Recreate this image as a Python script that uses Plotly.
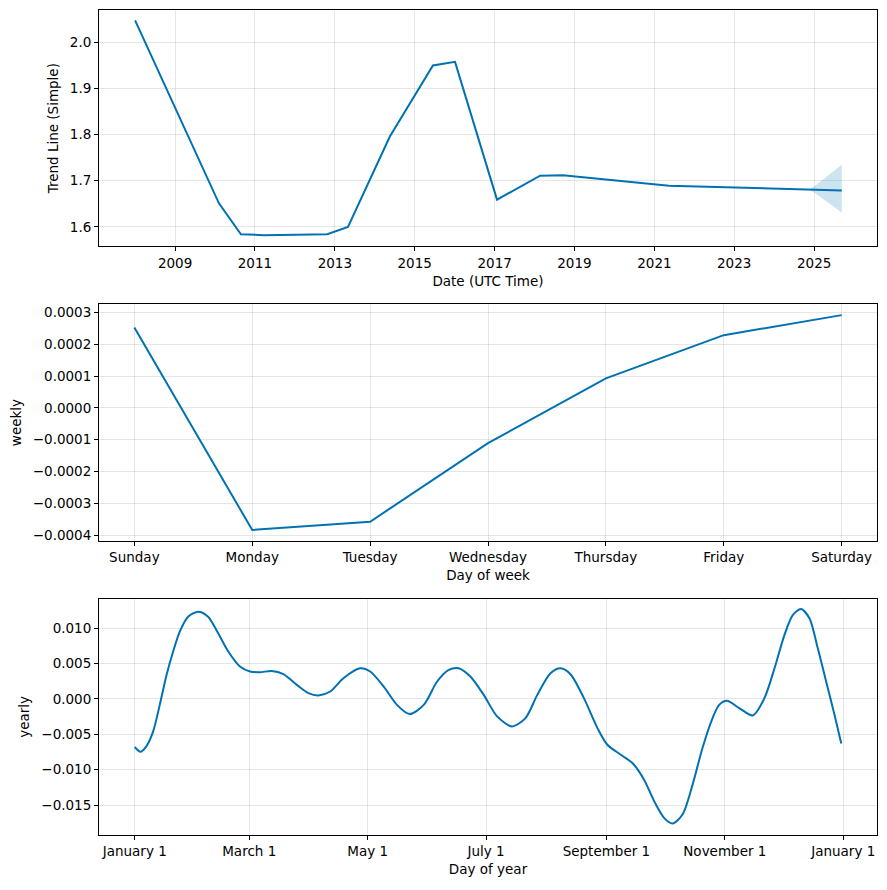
import datetime as dt
import plotly.graph_objects as go

# ---------------- data ----------------
trend_dates = ["2008-01-01", "2010-02-06", "2010-08-26", "2011-03-25", "2012-10-23",
               "2013-05-01", "2014-05-19", "2015-06-17", "2016-01-05", "2017-01-23",
               "2018-02-21", "2018-09-17", "2021-05-15", "2024-12-13", "2025-09-11"]
trend_values = [2.048, 1.651, 1.584, 1.582, 1.584,
                1.600, 1.796, 1.950, 1.958, 1.659,
                1.711, 1.712, 1.689, 1.680, 1.679]

band_dates = ["2024-11-24", "2024-12-10", "2025-01-25", "2025-03-27", "2025-06-26", "2025-09-11"]
band_upper = [1.681, 1.685, 1.692, 1.703, 1.721, 1.735]
band_lower = [1.680, 1.678, 1.671, 1.660, 1.644, 1.631]

weekdays = ["Sunday", "Monday", "Tuesday", "Wednesday", "Thursday", "Friday", "Saturday"]
weekly_values = [0.000253, -0.000384, -0.000358, -0.000111, 0.000093, 0.000229, 0.000292]

yearly_days = [0, 2.9, 6.0, 9.5, 12.9, 16.4, 19.8, 23.2, 27.5, 32.7, 37.8, 43.0, 48.2,
               54.2, 59.4, 64.5, 70.6, 76.6, 83.5, 89.5, 94.6, 100.7, 107.5, 116.2,
               121.3, 128.2, 135.1, 141.6, 148.9, 155.8, 161.8, 166.9, 172.9, 179.8,
               186.7, 194.4, 201.3, 207.4, 214.2, 219.4, 224.5, 231.4, 238.4, 243.5,
               250.4, 256.4, 262.4, 267.6, 272.7, 277.1, 282.2, 287.4, 292.5, 297.7,
               301.1, 305.1, 311.5, 318.4, 324.4, 329.6, 334.7, 339.0, 343.3, 347.6,
               351.9, 356.2, 360.5, 364]
yearly_values = [-0.0068, -0.00746, -0.0067, -0.00459, -0.00085, 0.00338, 0.00668,
                 0.00949, 0.0116, 0.01231, 0.0116, 0.00925, 0.00668, 0.00456, 0.00386,
                 0.00376, 0.00394, 0.00348, 0.00197, 0.0008, 0.00048, 0.00104, 0.00292,
                 0.00432, 0.00386, 0.00175, -0.00085, -0.00215, -0.00085, 0.00245,
                 0.00408, 0.00432, 0.00315, 0.00056, -0.00248, -0.00389, -0.00272,
                 0.00056, 0.00362, 0.00432, 0.00348, 0.0001, -0.00413, -0.00648,
                 -0.00789, -0.00906, -0.01141, -0.01445, -0.0168, -0.0176, -0.01634,
                 -0.01211, -0.00694, -0.00272, -0.00085, -0.00028, -0.00131, -0.00234,
                 0.0001, 0.00432, 0.00901, 0.01183, 0.01268, 0.01137, 0.00714, 0.00245,
                 -0.00225, -0.0063]

trend_tick_years = ["2009", "2011", "2013", "2015", "2017", "2019", "2021", "2023", "2025"]
trend_yticks = [1.6, 1.7, 1.8, 1.9, 2.0]
weekly_yticks = [-0.0004, -0.0003, -0.0002, -0.0001, 0.0, 0.0001, 0.0002, 0.0003]
yearly_yticks = [-0.015, -0.010, -0.005, 0.0, 0.005, 0.010]
month_tick_dates = ["2017-01-01", "2017-03-01", "2017-05-01", "2017-07-01",
                    "2017-09-01", "2017-11-01", "2018-01-01"]
month_tick_labels = ["January 1", "March 1", "May 1", "July 1",
                     "September 1", "November 1", "January 1"]

# ---------------- figure ----------------
base = dt.datetime(2017, 1, 1)
yearly_dates = [base + dt.timedelta(days=d) for d in yearly_days]

BLUE = "#0072B2"
FONT = "DejaVu Sans"
FS = 13.5

fig = go.Figure()
fig.add_trace(go.Scatter(x=band_dates, y=band_lower, mode="lines", line=dict(width=0),
                         showlegend=False, hoverinfo="skip", xaxis="x", yaxis="y"))
fig.add_trace(go.Scatter(x=band_dates, y=band_upper, mode="lines", line=dict(width=0),
                         fill="tonexty", fillcolor="rgba(0,114,178,0.2)",
                         showlegend=False, hoverinfo="skip", xaxis="x", yaxis="y"))
fig.add_trace(go.Scatter(x=trend_dates, y=trend_values, mode="lines",
                         line=dict(color=BLUE, width=2), showlegend=False,
                         xaxis="x", yaxis="y"))
fig.add_trace(go.Scatter(x=list(range(7)), y=weekly_values, mode="lines",
                         line=dict(color=BLUE, width=2), showlegend=False,
                         xaxis="x2", yaxis="y2"))
fig.add_trace(go.Scatter(x=yearly_dates, y=yearly_values, mode="lines",
                         line=dict(color=BLUE, width=2, shape="spline", smoothing=0.8),
                         showlegend=False, xaxis="x3", yaxis="y3"))

# page body has an 8px margin: figure is placed at (8, 8)
OFF = 8
W, H = 887 - 2 * OFF, 890 - 2 * OFF
xd = [(99 - OFF) / W, (877 - OFF) / W]

def ydom(top, bottom):
    return [1 - (bottom - OFF) / H, 1 - (top - OFF) / H]

common = dict(showline=True, linecolor="black", linewidth=1, mirror=True,
              ticks="outside", ticklen=4, tickwidth=1, tickcolor="black",
              showgrid=True, gridcolor="rgba(128,128,128,0.2)", gridwidth=1,
              zeroline=False, tickfont=dict(family=FONT, size=FS, color="black"),
              title_font=dict(family=FONT, size=FS, color="black"))

fig.update_layout(
    width=W, height=H, margin=dict(l=0, r=0, t=0, b=0),
    paper_bgcolor="white", plot_bgcolor="white",
    font=dict(family=FONT, size=FS, color="black"),
    xaxis=dict(domain=xd, anchor="y", type="date",
               range=["2007-02-05", "2026-07-30"],
               tickvals=[y + "-01-01" for y in trend_tick_years], ticktext=trend_tick_years,
               title=dict(text="Date (UTC Time)", standoff=6), **common),
    yaxis=dict(domain=ydom(10, 247), anchor="x", range=[1.5575, 2.0705],
               tickvals=trend_yticks, ticktext=[f"{v:.1f}" for v in trend_yticks],
               title=dict(text="Trend Line (Simple)", standoff=8), **common),
    xaxis2=dict(domain=xd, anchor="y2", range=[-0.3, 6.3],
                tickvals=list(range(7)), ticktext=weekdays,
                title=dict(text="Day of week", standoff=6), **common),
    yaxis2=dict(domain=ydom(305, 542), anchor="x2", range=[-0.000418, 0.000326],
                tickvals=weekly_yticks,
                ticktext=[f"{v:.4f}".replace("-", "\u2212") for v in weekly_yticks],
                title=dict(text="weekly", standoff=8), **common),
    xaxis3=dict(domain=xd, anchor="y3", type="date",
                range=[base + dt.timedelta(days=-18.4), base + dt.timedelta(days=382.4)],
                tickvals=month_tick_dates, ticktext=month_tick_labels,
                title=dict(text="Day of year", standoff=6), **common),
    yaxis3=dict(domain=ydom(600, 837), anchor="x3", range=[-0.01924, 0.01415],
                tickvals=yearly_yticks,
                ticktext=[f"{v:.3f}".replace("-", "\u2212") for v in yearly_yticks],
                title=dict(text="yearly", standoff=8), **common),
)

fig.write_html("out.html")
